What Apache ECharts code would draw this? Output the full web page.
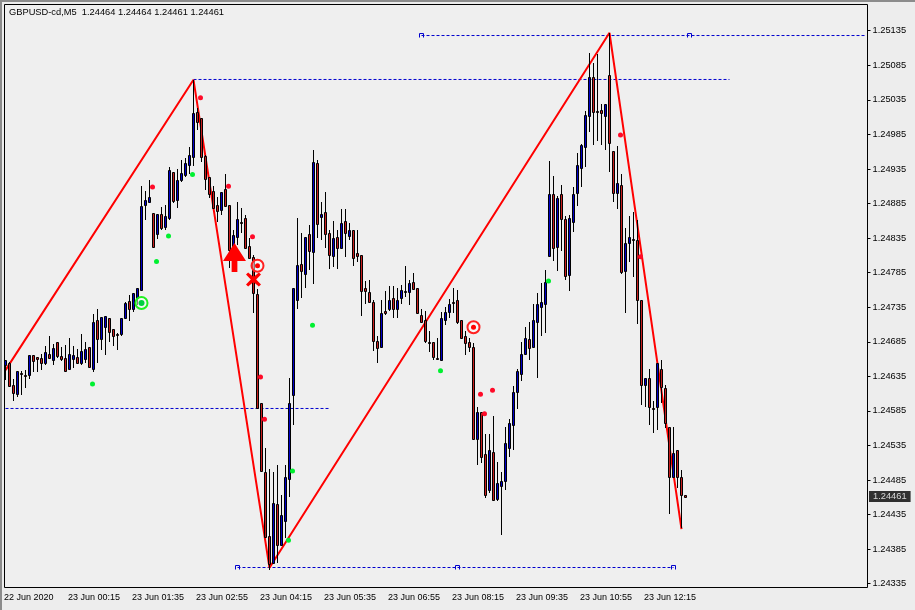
<!DOCTYPE html>
<html>
<head>
<meta charset="utf-8">
<title>GBPUSD-cd,M5</title>
<script src="https://cdn.jsdelivr.net/npm/echarts@6/dist/echarts.min.js"></script>
<style>
html, body { margin: 0; padding: 0; background: #ededed; }
#main { position: absolute; left: 0; top: 0; width: 915px; height: 610px; }
.edge { position: absolute; left: 0; top: 0; background: #8c8c8c; z-index: 5; }
</style>
</head>
<body>
<div id="main"></div>
<div class="edge" style="width:915px;height:2px"></div>
<div class="edge" style="width:2px;height:610px"></div>
<script>
var titleText = "GBPUSD-cd,M5  1.24464 1.24464 1.24461 1.24461";
var timeLabels = ["22 Jun 2020", "23 Jun 00:15", "23 Jun 01:35", "23 Jun 02:55", "23 Jun 04:15", "23 Jun 05:35",
    "23 Jun 06:55", "23 Jun 08:15", "23 Jun 09:35", "23 Jun 10:55", "23 Jun 12:15"];
var priceTicks = [1.24335, 1.24385, 1.24435, 1.24485, 1.24535, 1.24585, 1.24635, 1.24685, 1.24735,
    1.24785, 1.24835, 1.24885, 1.24935, 1.24985, 1.25035, 1.25085, 1.25135];
var lastPrice = 1.24461;

var opens = [
    1.24651, 1.24654, 1.24622, 1.24609, 1.24640, 1.24637, 1.24637, 1.24666, 1.24663, 1.24662,
    1.24655, 1.24667, 1.24659, 1.24685, 1.24664, 1.24661, 1.24646, 1.24660, 1.24663, 1.24655,
    1.24660, 1.24677, 1.24646, 1.24716, 1.24689, 1.24706, 1.24719, 1.24703, 1.24696, 1.24696,
    1.24719, 1.24744, 1.24732, 1.24749, 1.24760, 1.24883, 1.24887, 1.24871, 1.24841, 1.24870,
    1.24851, 1.24864, 1.24931, 1.24890, 1.24919, 1.24927, 1.24941, 1.24953, 1.25017, 1.25009,
    1.24954, 1.24923, 1.24903, 1.24883, 1.24876, 1.24906, 1.24883, 1.24822, 1.24837, 1.24858,
    1.24864, 1.24824, 1.24808, 1.24754, 1.24596, 1.24496, 1.24404, 1.24365, 1.24450, 1.24391,
    1.24426, 1.24486, 1.24608, 1.24745, 1.24797, 1.24783, 1.24841, 1.24815, 1.24944, 1.24865,
    1.24873, 1.24842, 1.24809, 1.24837, 1.24820, 1.24860, 1.24838, 1.24847, 1.24814, 1.24811,
    1.24763, 1.24757, 1.24743, 1.24686, 1.24677, 1.24730, 1.24733, 1.24749, 1.24732, 1.24748,
    1.24759, 1.24757, 1.24772, 1.24763, 1.24724, 1.24717, 1.24684, 1.24684, 1.24661, 1.24659,
    1.24716, 1.24728, 1.24742, 1.24745, 1.24717, 1.24694, 1.24684, 1.24677, 1.24544, 1.24583,
    1.24522, 1.24471, 1.24526, 1.24457, 1.24476, 1.24484, 1.24532, 1.24565, 1.24612, 1.24639,
    1.24668, 1.24689, 1.24677, 1.24713, 1.24735, 1.24739, 1.24809, 1.24899, 1.24822, 1.24899,
    1.24863, 1.24782, 1.24858, 1.24900, 1.24937, 1.24967, 1.25012, 1.25068, 1.25019, 1.25020,
    1.25012, 1.25071, 1.24961, 1.24900, 1.24912, 1.24787, 1.24828, 1.24834, 1.24832, 1.24746,
    1.24622, 1.24632, 1.24589, 1.24590, 1.24646, 1.24618, 1.24561, 1.24489, 1.24528, 1.24489,
    1.24464
];
var closes = [
    1.24659, 1.24621, 1.24611, 1.24643, 1.24639, 1.24636, 1.24666, 1.24657, 1.24660, 1.24655,
    1.24670, 1.24661, 1.24676, 1.24664, 1.24660, 1.24642, 1.24667, 1.24666, 1.24655, 1.24671,
    1.24674, 1.24648, 1.24713, 1.24689, 1.24721, 1.24722, 1.24699, 1.24693, 1.24695, 1.24719,
    1.24741, 1.24732, 1.24756, 1.24763, 1.24881, 1.24890, 1.24895, 1.24822, 1.24870, 1.24850,
    1.24867, 1.24934, 1.24889, 1.24919, 1.24929, 1.24944, 1.24955, 1.25016, 1.25003, 1.24952,
    1.24921, 1.24899, 1.24879, 1.24874, 1.24902, 1.24881, 1.24818, 1.24840, 1.24863, 1.24857,
    1.24821, 1.24806, 1.24756, 1.24589, 1.24498, 1.24403, 1.24364, 1.24452, 1.24391, 1.24434,
    1.24490, 1.24596, 1.24763, 1.24796, 1.24787, 1.24837, 1.24816, 1.24945, 1.24855, 1.24870,
    1.24841, 1.24811, 1.24835, 1.24820, 1.24857, 1.24842, 1.24847, 1.24806, 1.24809, 1.24759,
    1.24759, 1.24743, 1.24686, 1.24676, 1.24727, 1.24726, 1.24745, 1.24733, 1.24746, 1.24760,
    1.24758, 1.24770, 1.24761, 1.24726, 1.24714, 1.24686, 1.24683, 1.24663, 1.24660, 1.24720,
    1.24728, 1.24739, 1.24741, 1.24714, 1.24691, 1.24683, 1.24678, 1.24545, 1.24584, 1.24519,
    1.24463, 1.24528, 1.24456, 1.24480, 1.24483, 1.24538, 1.24567, 1.24612, 1.24642, 1.24668,
    1.24690, 1.24676, 1.24716, 1.24739, 1.24742, 1.24772, 1.24899, 1.24820, 1.24893, 1.24863,
    1.24780, 1.24864, 1.24899, 1.24941, 1.24970, 1.25013, 1.25068, 1.25017, 1.25018, 1.25016,
    1.25029, 1.24973, 1.24900, 1.24915, 1.24786, 1.24828, 1.24837, 1.24833, 1.24746, 1.24622,
    1.24632, 1.24590, 1.24588, 1.24655, 1.24619, 1.24567, 1.24489, 1.24524, 1.24490, 1.24463,
    1.24461
];
var lows = [
    1.24630, 1.24619, 1.24600, 1.24605, 1.24608, 1.24618, 1.24631, 1.24641, 1.24641, 1.24644,
    1.24651, 1.24661, 1.24651, 1.24661, 1.24657, 1.24641, 1.24644, 1.24647, 1.24654, 1.24651,
    1.24654, 1.24648, 1.24641, 1.24654, 1.24673, 1.24666, 1.24684, 1.24679, 1.24673, 1.24693,
    1.24719, 1.24715, 1.24728, 1.24738, 1.24760, 1.24861, 1.24886, 1.24822, 1.24834, 1.24847,
    1.24847, 1.24861, 1.24886, 1.24879, 1.24916, 1.24924, 1.24928, 1.24939, 1.24992, 1.24945,
    1.24905, 1.24893, 1.24879, 1.24858, 1.24869, 1.24881, 1.24792, 1.24791, 1.24825, 1.24842,
    1.24821, 1.24806, 1.24726, 1.24588, 1.24498, 1.24403, 1.24355, 1.24365, 1.24365, 1.24391,
    1.24401, 1.24460, 1.24565, 1.24732, 1.24748, 1.24763, 1.24789, 1.24769, 1.24835, 1.24832,
    1.24821, 1.24791, 1.24793, 1.24791, 1.24820, 1.24808, 1.24832, 1.24795, 1.24800, 1.24723,
    1.24740, 1.24742, 1.24671, 1.24654, 1.24677, 1.24724, 1.24729, 1.24719, 1.24719, 1.24740,
    1.24750, 1.24738, 1.24760, 1.24726, 1.24713, 1.24683, 1.24670, 1.24659, 1.24660, 1.24659,
    1.24709, 1.24719, 1.24726, 1.24711, 1.24690, 1.24666, 1.24670, 1.24544, 1.24506, 1.24509,
    1.24459, 1.24466, 1.24454, 1.24454, 1.24406, 1.24471, 1.24519, 1.24528, 1.24588, 1.24628,
    1.24668, 1.24659, 1.24677, 1.24632, 1.24694, 1.24697, 1.24809, 1.24802, 1.24788, 1.24817,
    1.24775, 1.24759, 1.24844, 1.24881, 1.24909, 1.24938, 1.24989, 1.24970, 1.24975, 1.24970,
    1.24963, 1.24930, 1.24887, 1.24877, 1.24783, 1.24726, 1.24800, 1.24779, 1.24711, 1.24594,
    1.24590, 1.24565, 1.24553, 1.24557, 1.24597, 1.24560, 1.24436, 1.24489, 1.24473, 1.24415,
    1.24461
];
var highs = [
    1.24659, 1.24656, 1.24631, 1.24643, 1.24643, 1.24644, 1.24666, 1.24666, 1.24663, 1.24668,
    1.24679, 1.24693, 1.24682, 1.24685, 1.24678, 1.24680, 1.24690, 1.24679, 1.24675, 1.24696,
    1.24684, 1.24678, 1.24725, 1.24733, 1.24721, 1.24722, 1.24719, 1.24703, 1.24697, 1.24719,
    1.24742, 1.24752, 1.24756, 1.24763, 1.24910, 1.24903, 1.24919, 1.24871, 1.24870, 1.24880,
    1.24883, 1.24938, 1.24931, 1.24935, 1.24948, 1.24951, 1.24967, 1.25064, 1.25023, 1.25009,
    1.24955, 1.24923, 1.24910, 1.24895, 1.24902, 1.24928, 1.24883, 1.24847, 1.24887, 1.24879,
    1.24869, 1.24835, 1.24811, 1.24761, 1.24596, 1.24532, 1.24501, 1.24496, 1.24506, 1.24464,
    1.24506, 1.24633, 1.24763, 1.24864, 1.24842, 1.24837, 1.24854, 1.24963, 1.24948, 1.24887,
    1.24902, 1.24847, 1.24860, 1.24847, 1.24877, 1.24877, 1.24857, 1.24847, 1.24847, 1.24811,
    1.24773, 1.24775, 1.24746, 1.24694, 1.24745, 1.24759, 1.24766, 1.24765, 1.24763, 1.24767,
    1.24795, 1.24775, 1.24785, 1.24763, 1.24733, 1.24729, 1.24701, 1.24684, 1.24690, 1.24728,
    1.24735, 1.24747, 1.24763, 1.24760, 1.24717, 1.24701, 1.24691, 1.24683, 1.24591, 1.24583,
    1.24551, 1.24552, 1.24577, 1.24511, 1.24496, 1.24561, 1.24573, 1.24621, 1.24646, 1.24684,
    1.24706, 1.24714, 1.24739, 1.24756, 1.24770, 1.24789, 1.24947, 1.24925, 1.24896, 1.24912,
    1.24867, 1.24869, 1.24909, 1.24958, 1.24971, 1.25019, 1.25103, 1.25088, 1.25101, 1.25029,
    1.25029, 1.25132, 1.24961, 1.24968, 1.24928, 1.24850, 1.24867, 1.24873, 1.24861, 1.24746,
    1.24633, 1.24646, 1.24600, 1.24655, 1.24658, 1.24622, 1.24561, 1.24561, 1.24528, 1.24499,
    1.24464
];

// bar index, price
var zigzag = [[0, 1.24644], [47, 1.25064], [66, 1.24358], [151, 1.25132], [169, 1.24414]];
var levelTop = [[104, 1.251281], [215, 1.251281]];
var levelHigh = [[47, 1.250645], [181, 1.250645]];
var levelMid = [[0, 1.245885], [81, 1.245885]];
var levelLow = [[58, 1.243584], [167, 1.243584]];
var levelMarks = [[104, 1.251281], [171, 1.251281], [58, 1.243584], [113, 1.243584], [167, 1.243584]];
var greenDots = [[22, 1.24624], [38, 1.24801], [41, 1.24838], [47, 1.24927], [71, 1.24398], [72, 1.24498],
    [77, 1.24709], [109, 1.24643], [136, 1.24773]];
var redDots = [[37, 1.24909], [49, 1.25038], [56, 1.24910], [62, 1.24837], [64, 1.24634], [65, 1.24573],
    [119, 1.24609], [120, 1.24581], [122, 1.24615], [154, 1.24984], [159, 1.24808]];
var greenRings = [[34, 1.24741]];
var redRings = [[63, 1.24795], [117, 1.24706]];
var crossMarks = [[62, 1.24775]];
var arrowMarks = [[57, 1.24807]];

var barCount = 216;
var categories = [];
for (var i = 0; i < barCount; i++) {
    categories.push(i % 16 === 0 && timeLabels[i / 16] ? timeLabels[i / 16] : "");
}
var candles = opens.map(function (o, i) {
    return [i, o, closes[i], lows[i], highs[i]];
});

function hasLabel(index, value) {
    return value !== "";
}
function levelLine(data) {
    return {
        type: "line", data: data, symbol: "none", z: 1, silent: true,
        lineStyle: { color: "#0000cd", width: 1, type: [3, 2] }
    };
}
function dots(data, color, size, shift) {
    return {
        type: "scatter", data: data, symbol: "circle", symbolSize: size || 5, symbolOffset: [shift === undefined ? -1 : shift, 0], z: 4,
        itemStyle: { color: color, opacity: 1 }
    };
}
function rings(data, color, size) {
    return {
        type: "scatter", data: data, symbol: "circle", symbolSize: size, z: 4,
        itemStyle: { color: "rgba(255,255,255,0.5)", borderColor: color, borderWidth: 2, opacity: 1 }
    };
}
// candles snapped to whole pixels: black outline 3px wide with one coloured column inside
function renderCandle(params, api) {
    var o = api.value(1), c = api.value(2);
    var x = Math.floor(api.coord([api.value(0), o])[0]) + 0.5;
    var yOpen = api.coord([api.value(0), o])[1];
    var yClose = api.coord([api.value(0), c])[1];
    var yLow = Math.round(api.coord([api.value(0), api.value(3)])[1]);
    var yHigh = Math.round(api.coord([api.value(0), api.value(4)])[1]);
    var top = Math.round(Math.min(yOpen, yClose)) + 0.5;
    var bottom = Math.max(Math.round(Math.max(yOpen, yClose)) + 0.5, top + 1);
    return {
        type: "group", silent: true,
        children: [
            { type: "line", shape: { x1: x, y1: yHigh, x2: x, y2: yLow }, style: { stroke: "#000", lineWidth: 1 } },
            {
                type: "rect", shape: { x: x - 1, y: top, width: 2, height: bottom - top },
                style: { fill: c > o ? "#0000c8" : "#c81e1e", stroke: "#000", lineWidth: 1 }
            }
        ]
    };
}

var fontName = "'Liberation Sans', Arial, sans-serif";
var chart = echarts.init(document.getElementById("main"));
chart.setOption({
    animation: false,
    backgroundColor: "#ededed",
    textStyle: { fontFamily: fontName },
    title: {
        text: titleText, left: 9, top: 8, padding: 0,
        textStyle: { fontSize: 9.3, fontWeight: "normal", color: "#000", fontFamily: fontName }
    },
    grid: { left: 3.5, top: 4, width: 864, height: 583, show: true, backgroundColor: "#efefef", borderWidth: 0 },
    xAxis: {
        type: "category", data: categories, boundaryGap: true,
        axisLine: { show: false },
        axisTick: { length: 4, alignWithLabel: true, interval: hasLabel, lineStyle: { color: "#000" } },
        axisLabel: {
            interval: hasLabel, align: "left", margin: 6, color: "#000", fontSize: 9, fontFamily: fontName,
            hideOverlap: false, showMinLabel: true, showMaxLabel: true, padding: [0, 0, 0, -1.5]
        },
        splitLine: { show: false }
    },
    yAxis: {
        type: "value", position: "right", min: 1.243302, max: 1.251737, scale: true,
        axisLine: { show: false },
        axisTick: { show: true, length: 3, customValues: priceTicks, lineStyle: { color: "#000" } },
        axisLabel: {
            customValues: priceTicks, margin: 5, color: "#000", fontSize: 9.3, fontFamily: fontName,
            formatter: function (v) { return v.toFixed(5); }
        },
        splitLine: { show: false }
    },
    graphic: [{
        type: "rect", silent: true, z: 10,
        shape: { x: 4.5, y: 4.5, width: 863, height: 583 },
        style: { fill: "none", stroke: "#000", lineWidth: 1 }
    }],
    series: [
        levelLine(levelTop),
        levelLine(levelHigh),
        levelLine(levelMid),
        levelLine(levelLow),
        {
            type: "scatter", data: levelMarks, symbol: "path://M0 4V0H4V4", symbolSize: 4, z: 1, silent: true,
            itemStyle: { color: "none", borderColor: "#0000cd", borderWidth: 1, opacity: 1 }
        },
        {
            type: "line", data: zigzag, symbol: "none", z: 2, silent: true,
            lineStyle: { color: "#ff0000", width: 2 }
        },
        {
            type: "custom", data: candles, renderItem: renderCandle, z: 3, clip: false,
            encode: { x: 0, y: [1, 2, 3, 4] }
        },
        dots(greenDots, "#00f030"),
        dots(redDots, "#ff0a28"),
        rings(greenRings, "#20f020", 12),
        dots(greenRings, "#00d040", 6, 0),
        rings(redRings, "#ff2020", 12),
        dots(redRings, "#ff0000", 5, 0),
        {
            type: "scatter", data: crossMarks, z: 4, symbolSize: [15, 14],
            symbol: "path://M2 0L7 4.5L12 0L14 2L9.5 7L14 12L12 14L7 9.5L2 14L0 12L4.5 7L0 2Z",
            itemStyle: { color: "#ff0000", opacity: 1 }
        },
        {
            type: "scatter", data: arrowMarks, z: 4, symbolSize: [23, 29], symbolOffset: [1, 0],
            symbol: "path://M12 0L24 18H15V29H9V18H0Z",
            itemStyle: { color: "#ff0000", opacity: 1 }
        },
        {
            type: "scatter", data: [[barCount - 1, lastPrice]], symbolSize: 1, z: 5, silent: true,
            itemStyle: { color: "rgba(0,0,0,0)" },
            label: {
                show: true, position: "right", distance: 3, color: "#fff", backgroundColor: "#000",
                padding: [1, 4, 1, 4], fontSize: 9.3, fontFamily: fontName, formatter: lastPrice.toFixed(5)
            }
        }
    ]
});
</script>
</body>
</html>
